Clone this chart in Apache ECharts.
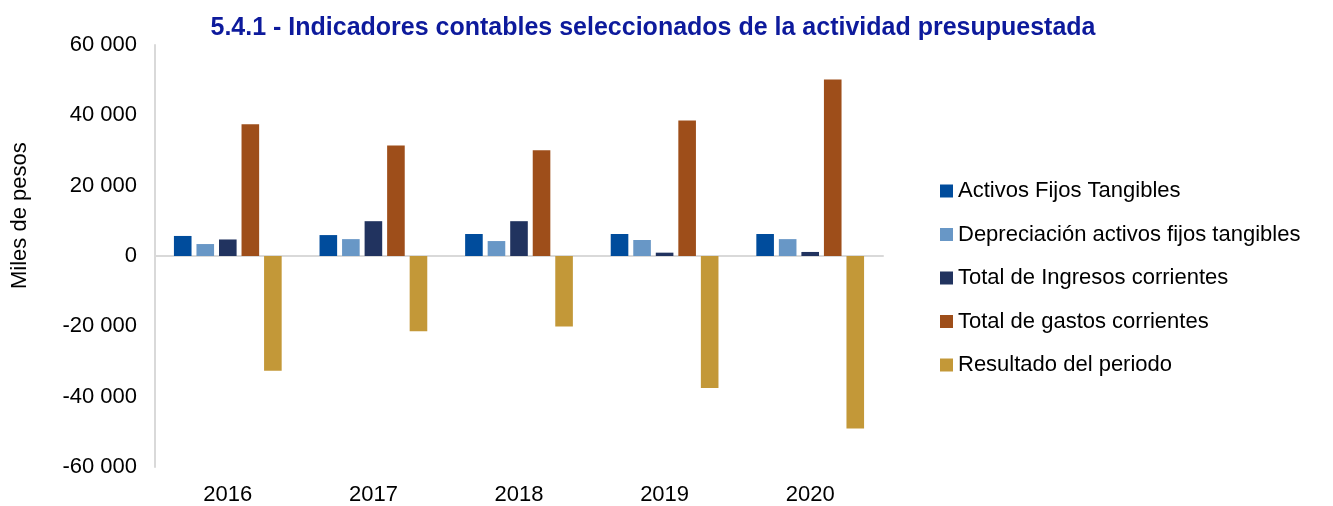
<!DOCTYPE html>
<html>
<head>
<meta charset="utf-8">
<script src="https://cdn.jsdelivr.net/npm/echarts@6/dist/echarts.min.js"></script>
<style>
  html, body { margin: 0; padding: 0; background: #fff; }
  #chart { width: 1333px; height: 506px; }
</style>
</head>
<body>
<div id="chart"></div>
<script>
// datos (miles de pesos)
var years = ['2016', '2017', '2018', '2019', '2020'];
var activosFijos = [5700, 5950, 6250, 6250, 6250];
var depreciacion = [3400, 4800, 4250, 4550, 4800];
var ingresos = [4700, 9900, 9900, 950, 1150];
var gastos = [37450, 31400, 30100, 38500, 50200];
var resultado = [-32600, -21400, -20050, -37550, -49050];

var seriesNames = [
  'Activos Fijos Tangibles',
  'Depreciación activos fijos tangibles',
  'Total de Ingresos corrientes',
  'Total de gastos corrientes',
  'Resultado del periodo'
];
var colors = ['#004c9c', '#6897c6', '#21335f', '#9e4e1a', '#c39838'];
var seriesData = [activosFijos, depreciacion, ingresos, gastos, resultado];
var font = 'Liberation Sans, Arial, sans-serif';

function fmt(v) {
  var s = String(Math.abs(v)).replace(/\B(?=(\d{3})+(?!\d))/g, ' ');
  return (v < 0 ? '-' : '') + s;
}

var chart = echarts.init(document.getElementById('chart'));
var series = [];
for (var i = 0; i < seriesNames.length; i++) {
  series.push({
    name: seriesNames[i],
    type: 'bar',
    xAxisIndex: 0,
    data: seriesData[i],
    barGap: '28%',
    barCategoryGap: '26%',
    itemStyle: { color: colors[i] }
  });
}

chart.setOption({
  animation: false,
  graphic: [{
    type: 'text',
    x: 653,
    y: 16,
    style: {
      text: '5.4.1 - Indicadores contables seleccionados de la actividad presupuestada',
      fill: '#0d1a9c',
      align: 'center',
      font: 'bold 25px "Liberation Sans", Arial, sans-serif'
    }
  }, {
    type: 'text',
    x: 9,
    y: 289,
    rotation: Math.PI / 2,
    style: {
      text: 'Miles de pesos',
      fill: '#000',
      font: '22px "Liberation Sans", Arial, sans-serif'
    }
  }],
  legend: {
    orient: 'vertical',
    left: 940,
    top: 180,
    padding: 0,
    itemWidth: 13,
    itemHeight: 13,
    itemGap: 21.5,
    icon: 'rect',
    textStyle: {
      color: '#000',
      fontSize: 22,
      fontFamily: font
    },
    data: seriesNames
  },
  grid: { left: 155, right: 450, top: 45, bottom: 38 },
  xAxis: [{
    type: 'category',
    data: years,
    position: 'bottom',
    axisLine: { show: false, onZero: false },
    axisTick: { show: false },
    axisLabel: {
      color: '#000',
      fontSize: 22,
      margin: 17,
      fontFamily: font
    }
  }, {
    type: 'category',
    data: years,
    position: 'bottom',
    axisLine: { show: true, onZero: true, lineStyle: { color: '#d9d9d9', width: 2 } },
    axisTick: { show: false },
    axisLabel: { show: false }
  }],
  yAxis: {
    type: 'value',
    min: -60000,
    max: 60000,
    interval: 20000,
    axisLine: { show: true, lineStyle: { color: '#d9d9d9', width: 2 } },
    axisTick: { show: false },
    splitLine: { show: false },
    axisLabel: {
      color: '#000',
      fontSize: 22,
      margin: 18,
      formatter: fmt,
      fontFamily: font
    }
  },
  series: series
});
</script>
</body>
</html>
